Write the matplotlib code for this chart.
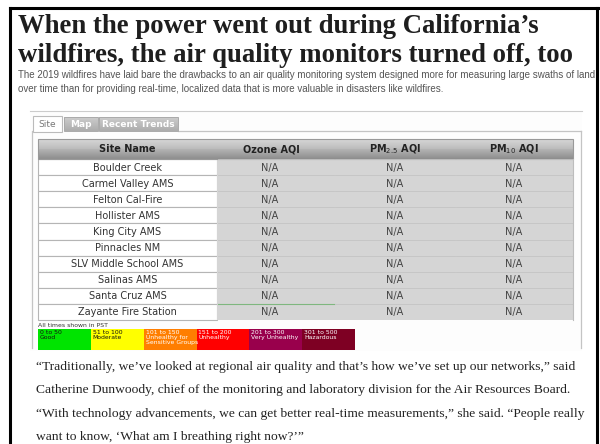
import matplotlib
matplotlib.use("Agg")
import matplotlib.pyplot as plt
import numpy as np
from matplotlib.patches import Rectangle

# ---- data ----
title_lines = ["When the power went out during California\u2019s",
               "wildfires, the air quality monitors turned off, too"]
subtitle_lines = ["The 2019 wildfires have laid bare the drawbacks to an air quality monitoring system designed more for measuring large swaths of land",
                  "over time than for providing real-time, localized data that is more valuable in disasters like wildfires."]
tabs = ["Site", "Map", "Recent Trends"]
columns = ["Site Name", "Ozone AQI", "PM$_{2.5}$ AQI", "PM$_{10}$ AQI"]
sites = ["Boulder Creek", "Carmel Valley AMS", "Felton Cal-Fire", "Hollister AMS",
         "King City AMS", "Pinnacles NM", "SLV Middle School AMS", "Salinas AMS",
         "Santa Cruz AMS", "Zayante Fire Station"]
ozone = ["N/A"] * 10
pm25 = ["N/A"] * 10
pm10 = ["N/A"] * 10
note = "All times shown in PST"
aqi_ranges = ["0 to 50", "51 to 100", "101 to 150", "151 to 200", "201 to 300", "301 to 500"]
aqi_labels = ["Good", "Moderate", "Unhealthy for\nSensitive Groups", "Unhealthy", "Very Unhealthy", "Hazardous"]
aqi_colors = ["#00e400", "#ffff00", "#ff7e00", "#ff0000", "#99004c", "#7e0023"]
aqi_text = ["#111111", "#111111", "#ffffff", "#ffffff", "#ffffff", "#ffffff"]
body_lines = ["\u201cTraditionally, we\u2019ve looked at regional air quality and that\u2019s how we\u2019ve set up our networks,\u201d said",
              "Catherine Dunwoody, chief of the monitoring and laboratory division for the Air Resources Board.",
              "\u201cWith technology advancements, we can get better real-time measurements,\u201d she said. \u201cPeople really",
              "want to know, \u2018What am I breathing right now?\u2019\u201d"]

fig = plt.figure(figsize=(6, 4.44), dpi=100)
ax = fig.add_axes([0, 0, 1, 1])
ax.set_xlim(0, 600)
ax.set_ylim(444, 0)
ax.axis("off")
renderer = fig.canvas.get_renderer()


def fit_size(texts, width_px, size0):
    """Scale font size of a group of texts so the widest spans width_px."""
    w = max(t.get_window_extent(renderer).width for t in texts)
    s = size0 * width_px / w
    for t in texts:
        t.set_fontsize(s)


# page frame
ax.add_patch(Rectangle((0, 0), 600, 444, color="white", zorder=0))
ax.plot([10, 600], [8, 8], color="black", lw=2.2, zorder=5)
ax.plot([10, 10], [8, 444], color="black", lw=2.2, zorder=5)
ax.plot([597, 597], [8, 444], color="black", lw=2.2, zorder=5)

# title
tt = [ax.text(18, 33 + i * 29, t, fontsize=18, fontweight="bold", family="Liberation Serif",
              color="#1e1e1e", va="baseline", ha="left") for i, t in enumerate(title_lines)]
fit_size(tt, 552, 18)

# subtitle (clipped at right)
clip = Rectangle((0, 0), 593, 444, transform=ax.transData, visible=False)
ax.add_patch(clip)
st = []
for i, t in enumerate(subtitle_lines):
    tx = ax.text(18, 78 + i * 14, t, fontsize=6.4, family="Liberation Sans",
                 color="#555555", va="baseline", ha="left")
    tx.set_clip_path(clip)
    st.append(tx)
w2 = st[1].get_window_extent(renderer).width
for tx in st:
    tx.set_fontsize(6.4 * (447 - 18) / w2)

# widget frame
ax.add_patch(Rectangle((30, 111), 552, 240, facecolor="#fdfdfd", edgecolor="none", zorder=1))
ax.plot([30, 582], [111, 111], color="#cccccc", lw=0.8, zorder=2)
ax.plot([32, 32], [131, 348], color="#c4c4c4", lw=0.9, zorder=2)
ax.plot([580.5, 580.5], [131, 348], color="#c4c4c4", lw=0.9, zorder=2)
ax.plot([178, 580.5], [131, 131], color="#c4c4c4", lw=0.9, zorder=2)

# tabs
tab_x = [(33, 62), (64, 98), (99, 178)]
for i, (name, (x0, x1)) in enumerate(zip(tabs, tab_x)):
    if i == 0:
        ax.add_patch(Rectangle((x0, 116), x1 - x0, 16, facecolor="white", edgecolor="#bbbbbb", lw=0.8, zorder=3))
        ax.text((x0 + x1) / 2, 124.5, name, fontsize=6.5, color="#777777", ha="center", va="center", zorder=4)
    else:
        grad = np.linspace(0.80, 0.68, 20).reshape(-1, 1)
        ax.imshow(np.dstack([grad] * 3), extent=[x0, x1, 131, 117], aspect="auto", zorder=3)
        ax.add_patch(Rectangle((x0, 117), x1 - x0, 14, facecolor="none", edgecolor="#aaaaaa", lw=0.7, zorder=4))
        ax.text((x0 + x1) / 2, 124.5, name, fontsize=6.5, fontweight="bold", color="white",
                ha="center", va="center", zorder=5)

# table
col_x = [38, 217, 334, 455, 573]
head_top, head_bot = 139, 159
row_h = 16.1
grad = np.concatenate([np.linspace(0.84, 0.74, 10), np.linspace(0.70, 0.56, 10)]).reshape(-1, 1)
ax.imshow(np.dstack([grad] * 3), extent=[col_x[0], col_x[-1], head_bot, head_top], aspect="auto", zorder=3)
ax.add_patch(Rectangle((col_x[0], head_top), col_x[-1] - col_x[0], head_bot - head_top,
                       facecolor="none", edgecolor="#999999", lw=0.8, zorder=4))
for j, c in enumerate(columns):
    ax.text((col_x[j] + col_x[j + 1]) / 2 + (0 if j != 1 else -4), 149, c, fontsize=7, fontweight="bold",
            color="#222222", ha="center", va="center", zorder=5)

values = [ozone, pm25, pm10]
for i, s in enumerate(sites):
    y0 = head_bot + i * row_h
    ax.add_patch(Rectangle((col_x[0], y0), col_x[1] - col_x[0], row_h, facecolor="white",
                           edgecolor="#b5b5b5", lw=0.8, zorder=3))
    ax.text((col_x[0] + col_x[1]) / 2, y0 + row_h / 2 + 0.5, s, fontsize=7, color="#333333",
            ha="center", va="center", zorder=5)
    for j, col in enumerate(values):
        ax.add_patch(Rectangle((col_x[j + 1], y0), col_x[j + 2] - col_x[j + 1], row_h, facecolor="#d5d5d5",
                               edgecolor="none", zorder=3))
        ax.plot([col_x[j + 1] + 1, col_x[j + 2]], [y0, y0], color="#c4c4c4", lw=0.6, zorder=4)
        ax.text((col_x[j + 1] + col_x[j + 2]) / 2 - (6 if j == 0 else 0), y0 + row_h / 2 + 0.5, col[i],
                fontsize=7, color="#444444", ha="center", va="center", zorder=5)
ax.plot([col_x[-1], col_x[-1]], [head_bot, head_bot + 10 * row_h], color="#bdbdbd", lw=0.8, zorder=4)
ax.plot([col_x[1] + 1, col_x[2]], [head_bot + 9 * row_h, head_bot + 9 * row_h], color="#7fb77f", lw=0.8, zorder=4)

# note & legend
ax.text(38, 325, note, fontsize=4.4, color="#333333", ha="left", va="center", zorder=5)
seg_w = (355 - 38) / 6
for k in range(6):
    x0 = 38 + k * seg_w
    ax.add_patch(Rectangle((x0, 328.5), seg_w, 21, facecolor=aqi_colors[k], edgecolor="none", zorder=3))
    ax.text(x0 + 2, 330, aqi_ranges[k] + "\n" + aqi_labels[k], fontsize=4.4, color=aqi_text[k],
            ha="left", va="top", linespacing=1.0, zorder=5)

# body text
bt = [ax.text(36, 370 + i * 23.3, t, fontsize=8.6, family="Liberation Serif", color="#222222",
              ha="left", va="baseline") for i, t in enumerate(body_lines)]
fit_size(bt, 582 - 36, 8.6)

fig.savefig("out.png", dpi=100)
